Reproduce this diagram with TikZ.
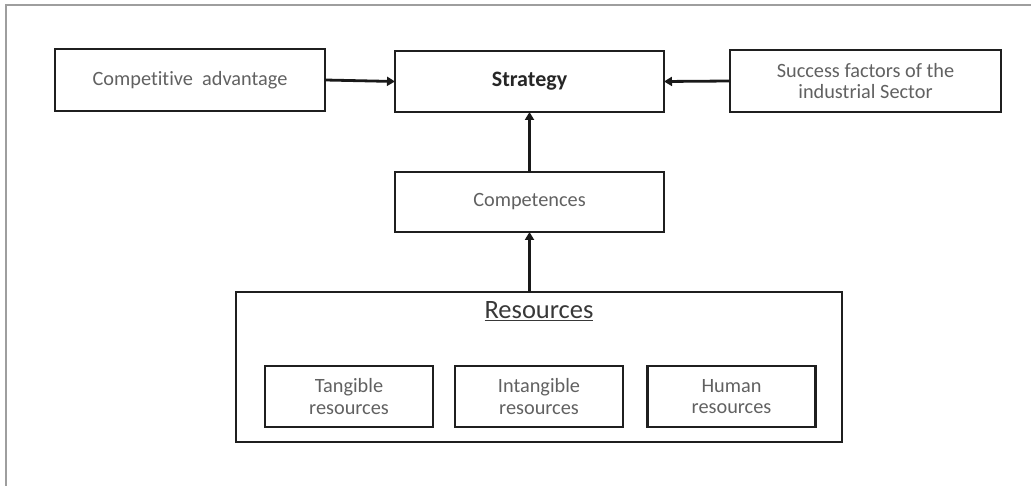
\documentclass[tikz,border=0pt]{standalone}
\usepackage{fontspec}
\setmainfont{Carlito}[Ligatures=NoCommon]
\usetikzlibrary{arrows.meta}
\begin{document}
\begin{tikzpicture}[x=1pt,y=-1pt,
  box/.style={draw=black!88, line width=2.6pt, rectangle, outer sep=0pt, inner sep=0pt,
    align=center, text=black!62, font=\fontsize{20.3}{21.5}\selectfont},
  arr/.style={line width=2.8pt, black!90, -{Triangle[width=9pt,length=8pt]}}]
  \useasboundingbox (0,0) rectangle (1031,486);
  % page frame
  \draw[black!38, line width=2pt] (6,486) -- (6,5) -- (1031,5);

  % top row
  \node[box, minimum width=270pt, minimum height=62pt] (adv) at (190,80) {Competitive\ \ advantage};
  \node[box, minimum width=269pt, minimum height=61pt, text=black!85,
        font=\fontsize{22}{24}\selectfont\bfseries] (strat) at (529.5,81.5) {Strategy};
  \node[box, minimum width=271pt, minimum height=62pt] (succ) at (865.5,81) {Success factors of the\\industrial Sector};

  % competences
  \node[box, minimum width=269pt, minimum height=60pt] (comp) at (529.5,202) {Competences};

  % resources group
  \node[box, minimum width=606pt, minimum height=150pt] (res) at (539,367) {};
  \node[text=black!78, font=\fontsize{26.5}{30}\selectfont, inner sep=0pt] (reslab) at (539,311) {\underline{Resources}};
  \node[box, minimum width=168pt, minimum height=61pt] (tang) at (349,396.5) {Tangible\\resources};
  \node[box, minimum width=168pt, minimum height=61pt] (intang) at (539,396.5) {Intangible\\resources};
  \node[box, minimum width=168pt, minimum height=61pt] (hum) at (731.5,396.5) {Human\\resources};

  % connectors
  \draw[arr] (adv.east) -- (strat.west);
  \draw[arr] (succ.west) -- (strat.east);
  \draw[arr] (comp.north) -- (strat.south);
  \draw[arr] (comp.south |- res.north) -- (comp.south);
\end{tikzpicture}
\end{document}
